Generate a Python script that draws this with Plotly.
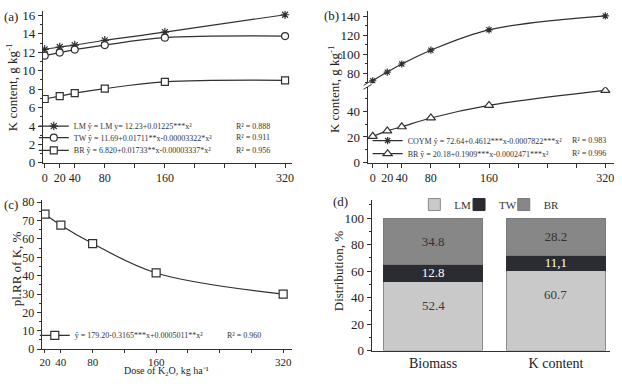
import plotly.graph_objects as go

# ---------------- data ----------------
dose = [0, 20, 40, 80, 160, 320]
lm_content = [12.32, 12.57, 12.78, 13.30, 14.18, 16.07]
tw_content = [11.63, 11.97, 12.29, 12.78, 13.58, 13.76]
br_content = [6.93, 7.25, 7.56, 8.06, 8.79, 8.96]

coym_b = [72.3, 81.4, 89.9, 104.4, 125.8, 140.4]
br_b = [20.5, 24.7, 27.9, 34.7, 44.4, 56.0]

dose_c = [20, 40, 80, 160, 320]
prr_c = [73.5, 67.5, 57.5, 41.5, 30.0]

parts = ["Biomass", "K content"]
lm_d = [52.4, 60.7]
tw_d = [12.8, 11.1]
br_d = [34.8, 28.2]
lm_lbl = ["52.4", "60.7"]
tw_lbl = ["12.8", "11,1"]
br_lbl = ["34.8", "28.2"]

xticks_ab = [0, 20, 40, 80, 160, 320]
xticks_c = [20, 40, 80, 160, 320]

eq_a = ["LM ŷ = LM y= 12.23+0.01225***x²",
        "TW ŷ = 11.69+0.01711**x-0.00003322*x²",
        "BR ŷ = 6.820+0.01733**x-0.00003337*x²"]
r2_a = ["R² = 0.888", "R² = 0.911", "R² = 0.956"]
eq_b = ["COYM ŷ = 72.64+0.4612***x-0.0007822***x²",
        "BR ŷ = 20.18+0.1909***x-0.0002471***x²"]
r2_b = ["R² = 0.983", "R² = 0.996"]
eq_c = "ŷ = 179.20-0.3165***x+0.0005011**x²"
r2_c = "R² = 0.960"

# ---------------- layout helpers ----------------
W, H = 622, 384
SERIF = "Liberation Serif"
INK = "#303030"


def fx(px):
    return px / W


def fy(py):
    return 1 - py / H


fig = go.Figure()
line_style = dict(color=INK, width=1.2)


def mk(symbol, size):
    if symbol.endswith("-open"):
        return dict(symbol=symbol, size=size, color=INK, line=dict(color=INK, width=1.2))
    return dict(symbol=symbol, size=size, color="white", line=dict(color=INK, width=1.2))


# panel (a)
fig.add_trace(go.Scatter(x=dose, y=lm_content, name=eq_a[0], mode="lines+markers",
                         line=dict(shape="spline", **line_style), marker=mk("asterisk-open", 7),
                         xaxis="x", yaxis="y", legend="legend"))
fig.add_trace(go.Scatter(x=dose, y=tw_content, name=eq_a[1], mode="lines+markers",
                         line=dict(shape="spline", **line_style), marker=mk("circle", 7),
                         xaxis="x", yaxis="y", legend="legend2"))
fig.add_trace(go.Scatter(x=dose, y=br_content, name=eq_a[2], mode="lines+markers",
                         line=dict(shape="spline", **line_style), marker=mk("square", 7),
                         xaxis="x", yaxis="y", legend="legend3"))

# panel (b)
fig.add_trace(go.Scatter(x=dose, y=coym_b, name=eq_b[0], mode="lines+markers",
                         line=dict(shape="spline", **line_style), marker=mk("asterisk-open", 6),
                         xaxis="x2", yaxis="y3", legend="legend4"))
fig.add_trace(go.Scatter(x=dose, y=br_b, name=eq_b[1], mode="lines+markers",
                         line=dict(shape="spline", **line_style), marker=mk("triangle-up", 8),
                         xaxis="x2", yaxis="y2", legend="legend5"))

# panel (c)
fig.add_trace(go.Scatter(x=dose_c, y=prr_c, name=eq_c, mode="lines+markers",
                         line=dict(shape="spline", **line_style), marker=mk("square", 8),
                         xaxis="x3", yaxis="y4", legend="legend6"))

# panel (d)
bar_font = dict(family=SERIF, size=13)
fig.add_trace(go.Bar(x=parts, y=lm_d, name="LM", marker=dict(color="#c9c9c9", line=dict(color="#8a8a8a", width=1)),
                     xaxis="x4", yaxis="y5", legend="legend7"))
fig.add_trace(go.Bar(x=parts, y=tw_d, name="TW", text=tw_lbl, textposition="inside",
                     insidetextanchor="middle", constraintext="none",
                     textfont=dict(color="white", **bar_font),
                     marker=dict(color="#2b2b32", line=dict(color="#2b2b32", width=1)),
                     xaxis="x4", yaxis="y5", legend="legend8"))
fig.add_trace(go.Bar(x=parts, y=br_d, name="BR", text=br_lbl, textposition="inside",
                     insidetextanchor="middle", constraintext="none",
                     textfont=dict(color="#333333", **bar_font),
                     marker=dict(color="#878787", line=dict(color="#7a7a7a", width=1)),
                     xaxis="x4", yaxis="y5", legend="legend9"))

annotations = []
for cat, v, lbl in zip(parts, lm_d, lm_lbl):
    annotations.append(dict(x=cat, y=v, xref="x4", yref="y5", text=lbl, showarrow=False,
                            yshift=-24, font=dict(color="#3a3a3a", **bar_font)))


def axis_common(size=13, ticklen=4):
    return dict(showline=True, linecolor=INK, linewidth=1, ticks="outside", ticklen=ticklen,
                tickcolor=INK, tickfont=dict(family=SERIF, size=size, color="#222"),
                showgrid=False, zeroline=False, mirror=False, tickangle=0)


def minor_y(d):
    return dict(dtick=d, ticks="outside", ticklen=2, tickcolor=INK, showgrid=False)


def minor_x(t0, ticklen=4):
    return dict(tick0=t0, dtick=40, ticks="outside", ticklen=ticklen, tickcolor=INK, showgrid=False)


layout = dict(
    width=W, height=H, margin=dict(l=0, r=0, t=0, b=0),
    paper_bgcolor="white", plot_bgcolor="white",
    barmode="stack", bargap=0.2,
    xaxis=dict(domain=[fx(41), fx(292)], range=[-2.6, 329.4], anchor="y",
               tickmode="array", tickvals=xticks_ab, minor=minor_x(0), **axis_common(12)),
    yaxis=dict(domain=[fy(164), fy(7)], range=[0, 16.5], anchor="x", dtick=2,
               minor=minor_y(1), **axis_common()),
    xaxis2=dict(domain=[fx(368), fx(616)], range=[-7, 332], anchor="y2",
                tickmode="array", tickvals=xticks_ab, minor=minor_x(0), **axis_common(12)),
    yaxis2=dict(domain=[fy(164), fy(86)], range=[0, 58.4], anchor="x2",
                tickvals=[0, 20, 40], minor=minor_y(10), **axis_common()),
    yaxis3=dict(domain=[fy(82), fy(7)], range=[69.5, 145.8], anchor="x2",
                tickvals=[80, 100, 120, 140], minor=minor_y(10), **axis_common()),
    xaxis3=dict(domain=[fx(40), fx(292)], range=[15.9, 331.3], anchor="y4",
                tickmode="array", tickvals=xticks_c, minor=minor_x(0, 3), ticklabelstandoff=0,
                **axis_common(11, 3)),
    yaxis4=dict(domain=[fy(356.3), fy(202)], range=[0, 81.4], anchor="x3", dtick=10,
                minor=minor_y(5), **axis_common(12)),
    xaxis4=dict(domain=[fx(372), fx(612)], range=[-0.5, 1.44], anchor="y5", type="category",
                showline=True, linecolor=INK, linewidth=1, ticks="", showgrid=False, zeroline=False,
                tickfont=dict(family=SERIF, size=14, color="#222")),
    yaxis5=dict(domain=[fy(357.7), fy(202)], range=[0, 114], anchor="x4", dtick=20,
                minor=minor_y(10), **axis_common()),
    showlegend=True,
)


def leg(xpx, ypx, size=8):
    return dict(x=fx(xpx), y=fy(ypx), xanchor="left", yanchor="middle", bgcolor="rgba(0,0,0,0)",
                borderwidth=0, font=dict(family=SERIF, size=size, color="#333"), itemwidth=30)


layout["legend"] = leg(72 - 40, 126)
layout["legend2"] = leg(72 - 40, 138)
layout["legend3"] = leg(72 - 40, 151)
layout["legend4"] = leg(408 - 40, 141)
layout["legend5"] = leg(408 - 40, 154.5)
layout["legend6"] = leg(73 - 40, 342)
layout["legend7"] = leg(455 - 40, 207, 11)
layout["legend8"] = leg(500 - 40, 207, 11)
layout["legend9"] = leg(545 - 40, 207, 11)

# R² annotations
small = dict(family=SERIF, size=8, color="#333")
for ypx, t in zip([126, 138, 151], r2_a):
    annotations.append(dict(x=fx(233), y=fy(ypx), xref="paper", yref="paper", text=t,
                            xanchor="left", yanchor="middle", showarrow=False, font=small))
for ypx, t in zip([141, 154.5], r2_b):
    annotations.append(dict(x=fx(572), y=fy(ypx), xref="paper", yref="paper", text=t,
                            xanchor="left", yanchor="middle", showarrow=False, font=small))
annotations.append(dict(x=fx(224), y=fy(342), xref="paper", yref="paper", text=r2_c,
                        xanchor="left", yanchor="middle", showarrow=False, font=small))

# axis titles
title_font = dict(family=SERIF, size=13, color="#222")
for xpx, ypx, t in [(10, 86, "K content, g kg<sup>-1</sup>"),
                    (334, 88, "K content, g kg<sup>-1</sup>"),
                    (15, 273, "pl.RR of K, %"),
                    (339, 276, "Distribution, %")]:
    annotations.append(dict(x=fx(xpx), y=fy(ypx), xref="paper", yref="paper", text=t,
                            textangle=-90, showarrow=False, font=title_font,
                            xanchor="center", yanchor="middle"))
annotations.append(dict(x=fx(166), y=fy(372), xref="paper", yref="paper",
                        text="Dose of K₂O, kg ha⁻¹", showarrow=False,
                        font=dict(family=SERIF, size=10, color="#222"),
                        xanchor="center", yanchor="top", borderpad=0))

# panel letters
for xpx, ypx, t in [(0, 13, "(a)"), (322, 12, "(b)"), (0, 207, "(c)"), (331, 204, "(d)")]:
    annotations.append(dict(x=fx(xpx), y=fy(ypx), xref="paper", yref="paper", text=t,
                            xanchor="left", yanchor="middle", showarrow=False,
                            font=dict(family=SERIF, size=13, color="#222")))

layout["annotations"] = annotations

# axis break marks on (b)
shapes = []
for dy in (0, 4):
    shapes.append(dict(type="line", xref="paper", yref="paper",
                       x0=fx(364), y0=fy(88 - dy), x1=fx(372), y1=fy(83 - dy),
                       line=dict(color=INK, width=1)))
layout["shapes"] = shapes

fig.update_layout(**layout)
fig.write_html("out.html")
